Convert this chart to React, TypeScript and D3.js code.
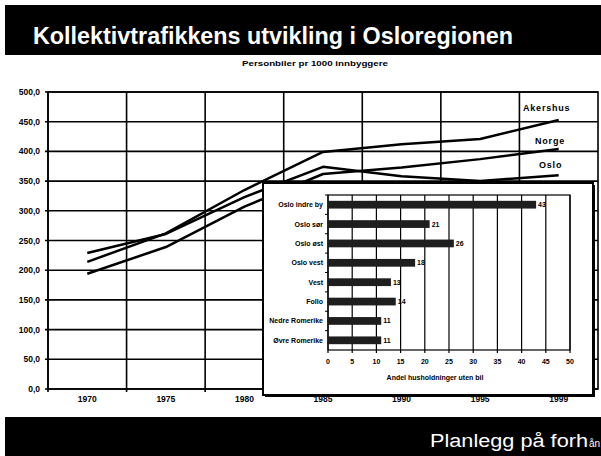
import * as d3 from 'd3';
import React from 'react';

// main chart: cars per 1000 inhabitants
const years = ['1970', '1975', '1980', '1985', '1990', '1995', '1999'];
const akershus = [214, 262, 335, 399, 412, 421, 453];
const norge = [194, 239, 307, 362, 373, 387, 404];
const oslo = [229, 261, 323, 374, 358, 350, 360];
const yTicks = [0, 50, 100, 150, 200, 250, 300, 350, 400, 450, 500];

// inset: share of households without car
const regions = ['Oslo indre by', 'Oslo sør', 'Oslo øst', 'Oslo vest', 'Vest', 'Follo', 'Nedre Romerike', 'Øvre Romerike'];
const noCarShare = [43, 21, 26, 18, 13, 14, 11, 11];
const barTicks = [0, 5, 10, 15, 20, 25, 30, 35, 40, 45, 50];

const font = '"Liberation Sans", Arial, sans-serif';

const App = () => {
	const W = 601;
	const H = 456;

	const plot = { left: 48, right: 598, top: 92, bottom: 389 };
	const x = d3.scaleBand().domain(years).range([plot.left, plot.right]);
	const y = d3.scaleLinear().domain([0, 500]).range([plot.bottom, plot.top]);
	const cx = (yr: string) => (x(yr) as number) + x.bandwidth() / 2;

	const line = d3
		.line<number>()
		.x((_, i) => cx(years[i]))
		.y((d) => y(d));

	const series = [
		{ name: 'Akershus', values: akershus, lx: 523, ly: 111 },
		{ name: 'Norge', values: norge, lx: 535, ly: 144 },
		{ name: 'Oslo', values: oslo, lx: 539, ly: 168 },
	];

	// inset
	const box = { left: 263, top: 183, right: 593, bottom: 395 };
	const bp = { left: 328, right: 570, top: 195, bottom: 350 };
	const bx = d3.scaleLinear().domain([0, 50]).range([bp.left, bp.right]);
	const by = d3.scaleBand().domain(regions).range([bp.top, bp.bottom]).paddingInner(0.6).paddingOuter(0.3);
	const bandEdges = d3.scaleBand().domain(regions).range([bp.top, bp.bottom]);

	return (
		<svg width={W} height={H} style={{ position: 'absolute', left: 0, top: 0, background: '#fff' }}>
			{/* title band */}
			<rect x={5} y={5} width={W - 5} height={50} fill="#000" />
			<text x={33} y={44} fill="#fff" fontFamily={font} fontWeight="bold" fontSize={23} textLength={480} lengthAdjust="spacingAndGlyphs">
				Kollektivtrafikkens utvikling i Osloregionen
			</text>
			<text x={242} y={66} fontFamily={font} fontWeight="bold" fontSize={8} textLength={146} lengthAdjust="spacingAndGlyphs">
				Personbiler pr 1000 innbyggere
			</text>

			{/* grid */}
			{yTicks.map((t) => (
				<g key={t}>
					<line x1={plot.left - 3} x2={plot.right} y1={y(t)} y2={y(t)} stroke="#000" strokeWidth={1.6} />
					<text x={40} y={y(t) + 3} textAnchor="end" fontFamily={font} fontWeight="bold" fontSize={8.5}>
						{d3.format('.1f')(t).replace('.', ',')}
					</text>
				</g>
			))}
			{years.map((yr) => (
				<g key={yr}>
					<line x1={x(yr)} x2={x(yr)} y1={plot.top} y2={plot.bottom + 3} stroke="#000" strokeWidth={1.6} />
					<text x={cx(yr)} y={402} textAnchor="middle" fontFamily={font} fontWeight="bold" fontSize={8.5}>
						{yr}
					</text>
				</g>
			))}
			<rect x={plot.left} y={plot.top} width={plot.right - plot.left} height={plot.bottom - plot.top} fill="none" stroke="#000" strokeWidth={1.6} />

			{series.map((s) => (
				<g key={s.name}>
					<path d={line(s.values) || ''} fill="none" stroke="#000" strokeWidth={2.5} strokeLinejoin="round" />
					<text x={s.lx} y={s.ly} fontFamily={font} fontWeight="bold" fontSize={9} letterSpacing={0.8}>
						{s.name}
					</text>
				</g>
			))}

			{/* inset box */}
			<rect x={box.left + 2} y={box.top + 2} width={box.right - box.left} height={box.bottom - box.top} fill="#000" />
			<rect x={box.left} y={box.top} width={box.right - box.left} height={box.bottom - box.top} fill="#fff" stroke="#000" strokeWidth={2} />

			{barTicks.map((t) => (
				<g key={t}>
					<line x1={bx(t)} x2={bx(t)} y1={bp.top} y2={bp.bottom + 3} stroke="#000" strokeWidth={1.2} />
					<text x={bx(t)} y={364} textAnchor="middle" fontFamily={font} fontWeight="bold" fontSize={7}>
						{t}
					</text>
				</g>
			))}
			<rect x={bp.left} y={bp.top} width={bp.right - bp.left} height={bp.bottom - bp.top} fill="none" stroke="#000" strokeWidth={1.2} />
			{regions.map((r) => (
				<line key={r} x1={bp.left - 3} x2={bp.left} y1={bandEdges(r)} y2={bandEdges(r)} stroke="#000" strokeWidth={1} />
			))}
			{regions.map((r, i) => (
				<g key={r}>
					<rect x={bx(0)} y={by(r)} width={bx(noCarShare[i]) - bx(0)} height={by.bandwidth()} fill="#1e1e1e" />
					<text x={323} y={(by(r) as number) + by.bandwidth() / 2 + 2.5} textAnchor="end" fontFamily={font} fontWeight="bold" fontSize={7}>
						{r}
					</text>
					<text x={bx(noCarShare[i]) + 2} y={(by(r) as number) + by.bandwidth() / 2 + 2.5} fontFamily={font} fontWeight="bold" fontSize={7}>
						{noCarShare[i]}
					</text>
				</g>
			))}
			<text x={435} y={380} textAnchor="middle" fontFamily={font} fontWeight="bold" fontSize={7}>
				Andel husholdninger uten bil
			</text>

			{/* footer band */}
			<rect x={5} y={417} width={W - 5} height={H - 417} fill="#000" />
			<text x={430} y={447} fill="#fff" fontFamily={font} fontSize={18} textLength={158} lengthAdjust="spacingAndGlyphs">
				Planlegg på forh
			</text>
			<text x={589} y={447} fill="#fff" fontFamily={font} fontSize={10}>
				ån
			</text>
		</svg>
	);
};

export default App;
